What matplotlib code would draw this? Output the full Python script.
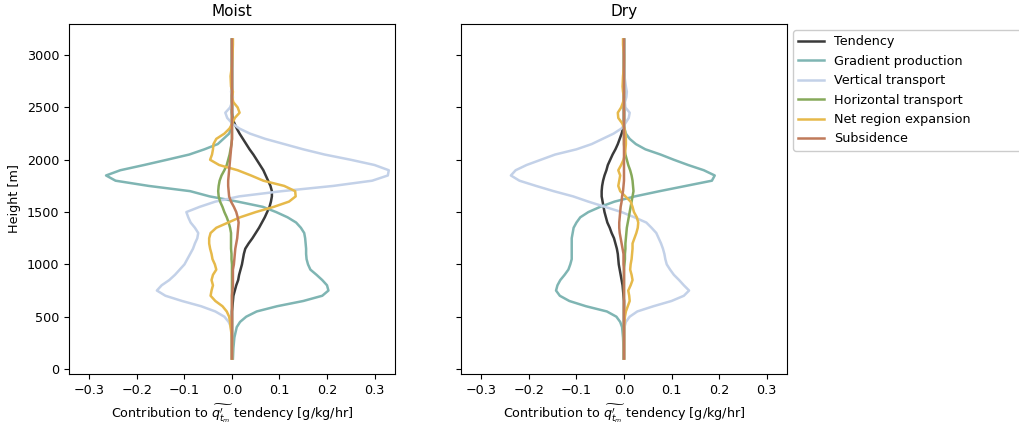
import matplotlib
matplotlib.use("Agg")
import matplotlib.pyplot as plt

plt.rcParams['font.family'] = ['DejaVu Sans']
plt.rcParams['font.size'] = 9.2

heights = [100, 200, 300, 400, 450, 500, 550, 600, 650, 700, 750, 800, 850, 900, 950,
           1000, 1050, 1100, 1150, 1200, 1250, 1300, 1350, 1400, 1450, 1500, 1550, 1600,
           1650, 1700, 1750, 1800, 1850, 1900, 1950, 2000, 2050, 2100, 2150, 2200, 2250,
           2300, 2350, 2400, 2450, 2500, 2550, 2600, 2650, 2700, 2800, 2900, 3000, 3100, 3150]

series_names = ["Tendency", "Gradient production", "Vertical transport",
                "Horizontal transport", "Net region expansion", "Subsidence"]
series_colors = ["#3a3a3a", "#7fb5b3", "#c3d1e8", "#86a95a", "#e6b94a", "#c07a5a"]

# ---------------- Moist ----------------
moist_tendency = [0, 0, 0, 0, 0, 0, 0, 0.001, 0.002, 0.003, 0.006, 0.009, 0.013, 0.015, 0.018,
                  0.021, 0.023, 0.025, 0.028, 0.035, 0.043, 0.050, 0.057, 0.063, 0.069, 0.074, 0.079, 0.082,
                  0.084, 0.084, 0.081, 0.076, 0.071, 0.066, 0.059, 0.052, 0.045, 0.037, 0.030, 0.023, 0.016,
                  0.010, 0.005, 0.001, 0, 0, 0, 0, 0, 0, 0, 0, 0, 0, 0]
moist_gradient = [0.002, 0.003, 0.005, 0.010, 0.017, 0.030, 0.052, 0.095, 0.150, 0.190, 0.203, 0.200, 0.190, 0.178, 0.165,
                  0.160, 0.157, 0.156, 0.156, 0.155, 0.154, 0.152, 0.145, 0.135, 0.117, 0.093, 0.065, 0.012,
                  -0.047, -0.088, -0.175, -0.245, -0.265, -0.235, -0.185, -0.137, -0.090, -0.058, -0.030, -0.018, -0.006,
                  -0.002, 0, 0, 0, 0, 0, 0, 0, 0, 0, 0, 0, 0, 0]
moist_vertical = [0, 0, 0, -0.002, -0.007, -0.016, -0.035, -0.065, -0.105, -0.140, -0.158, -0.148, -0.132, -0.120, -0.110,
                  -0.100, -0.094, -0.088, -0.082, -0.078, -0.073, -0.071, -0.078, -0.087, -0.092, -0.096, -0.068, -0.035,
                  0.015, 0.105, 0.213, 0.295, 0.328, 0.330, 0.300, 0.250, 0.195, 0.150, 0.110, 0.070, 0.038,
                  0.015, 0.0, -0.010, -0.014, -0.004, 0.0, 0.002, -0.002, 0.0, 0, 0, 0, 0, 0]
moist_horizontal = [0, 0, 0, 0, 0, 0, 0, 0, 0, 0, 0, 0, 0, 0, 0,
                    0, -0.001, -0.001, -0.002, -0.002, -0.002, -0.002, -0.004, -0.007, -0.011, -0.016, -0.020, -0.025,
                    -0.028, -0.029, -0.028, -0.026, -0.022, -0.016, -0.011, -0.008, -0.005, -0.003, -0.001, 0, 0,
                    0, 0, 0, 0, 0, 0, 0, 0, 0, 0, 0, 0, 0, 0]
moist_net = [0, 0, 0, -0.003, -0.004, -0.006, -0.011, -0.020, -0.035, -0.045, -0.043, -0.040, -0.043, -0.040, -0.033,
             -0.036, -0.041, -0.043, -0.046, -0.048, -0.048, -0.045, -0.033, -0.008, 0.017, 0.050, 0.088, 0.120,
             0.134, 0.133, 0.110, 0.066, 0.040, 0.012, -0.027, -0.046, -0.042, -0.040, -0.039, -0.033, -0.016,
             -0.005, 0.001, 0.006, 0.016, 0.012, 0.003, 0.0, 0.002, -0.002, -0.003, 0.0, 0.001, 0.002, 0.002]
moist_subsidence = [0, 0, 0, 0, 0, 0, 0, 0, 0, 0, 0.001, 0.002, 0.002, 0.002, 0.002,
                    0.004, 0.005, 0.006, 0.007, 0.009, 0.011, 0.012, 0.013, 0.014, 0.012, 0.009, 0.004, -0.002,
                    -0.006, -0.007, -0.008, -0.008, -0.007, -0.006, -0.005, -0.004, -0.003, -0.002, -0.001, 0, 0,
                    0, 0, 0, 0, 0, 0, 0, 0, 0, 0, 0, 0, 0, 0]

# ---------------- Dry ----------------
dry_tendency = [0, 0, 0, 0, 0, 0, 0, 0, 0, -0.001, -0.002, -0.003, -0.005, -0.007, -0.009,
                -0.011, -0.012, -0.013, -0.015, -0.018, -0.021, -0.026, -0.030, -0.035, -0.038, -0.041, -0.043, -0.045,
                -0.047, -0.047, -0.046, -0.044, -0.041, -0.037, -0.034, -0.029, -0.024, -0.018, -0.013, -0.009, -0.005,
                -0.002, 0, 0, 0, 0, 0, 0, 0, 0, 0, 0, 0, 0, 0]
dry_gradient = [-0.001, -0.001, -0.002, -0.004, -0.008, -0.016, -0.036, -0.080, -0.115, -0.135, -0.143, -0.140, -0.134, -0.125, -0.117,
                -0.113, -0.110, -0.110, -0.110, -0.110, -0.110, -0.108, -0.106, -0.100, -0.092, -0.075, -0.050, -0.020,
                0.023, 0.075, 0.130, 0.185, 0.191, 0.168, 0.135, 0.105, 0.077, 0.045, 0.025, 0.012, 0.004,
                0.001, 0, 0, 0, 0, 0, 0, 0, 0, 0, 0, 0, 0, 0]
dry_vertical = [0, 0, 0, 0.001, 0.004, 0.012, 0.028, 0.062, 0.100, 0.126, 0.137, 0.126, 0.116, 0.105, 0.097,
                0.090, 0.087, 0.085, 0.082, 0.078, 0.073, 0.068, 0.058, 0.047, 0.022, -0.005, -0.040, -0.075,
                -0.107, -0.148, -0.185, -0.220, -0.238, -0.228, -0.205, -0.175, -0.145, -0.100, -0.068, -0.045, -0.022,
                -0.005, 0.003, 0.010, 0.012, 0.003, 0.002, 0.005, 0.006, 0.004, 0.001, 0.001, 0, 0, 0]
dry_horizontal = [0, 0, 0, 0, 0, 0, 0, 0, 0, 0, 0, 0, 0, 0, 0,
                  0.001, 0.002, 0.002, 0.003, 0.003, 0.004, 0.005, 0.006, 0.008, 0.010, 0.012, 0.014, 0.016,
                  0.018, 0.020, 0.019, 0.018, 0.016, 0.013, 0.009, 0.006, 0.003, 0.001, 0, 0, 0,
                  0, 0, 0, 0, 0, 0, 0, 0, 0, 0, 0, 0, 0, 0]
dry_net = [0, 0, 0, 0, 0.001, 0.002, 0.004, 0.008, 0.012, 0.011, 0.009, 0.014, 0.018, 0.016, 0.013,
           0.014, 0.016, 0.017, 0.018, 0.018, 0.022, 0.026, 0.029, 0.030, 0.027, 0.021, 0.018, 0.014,
           0.003, -0.008, -0.012, -0.010, -0.008, -0.012, -0.006, -0.001, 0.002, 0.003, 0.004, 0.004, 0.003,
           0.001, -0.004, -0.012, -0.013, -0.006, -0.002, 0.0, -0.002, -0.003, -0.002, 0.0, 0.0, -0.002, -0.002]
dry_subsidence = [0, 0, 0, 0, 0, 0, 0, 0, 0, 0, 0, 0, 0, 0, 0,
                  -0.001, -0.001, -0.001, -0.003, -0.005, -0.007, -0.009, -0.010, -0.010, -0.009, -0.008, -0.007, -0.005,
                  -0.004, -0.002, -0.001, 0, 0, 0, 0, 0, 0, 0, 0, 0, 0,
                  0, 0, 0, 0, 0, 0, 0, 0, 0, 0, 0, 0, 0, 0]

panels = [
    ("Moist", [moist_tendency, moist_gradient, moist_vertical, moist_horizontal, moist_net, moist_subsidence]),
    ("Dry", [dry_tendency, dry_gradient, dry_vertical, dry_horizontal, dry_net, dry_subsidence]),
]
xticks = [-0.3, -0.2, -0.1, 0.0, 0.1, 0.2, 0.3]
xlabel = r"Contribution to $\widetilde{q^{\prime}_{t_m}}$ tendency [g/kg/hr]"

fig = plt.figure(figsize=(10.19, 4.24), dpi=100)
ax1 = fig.add_axes([0.0677, 0.1179, 0.3199, 0.8255])
ax2 = fig.add_axes([0.4524, 0.1179, 0.3199, 0.8255], sharey=ax1)

for ax, (title, data) in zip([ax1, ax2], panels):
    for name, color, vals in zip(series_names, series_colors, data):
        ax.plot(vals, heights, color=color, lw=1.8, label=name)
    ax.set_title(title, fontsize=11)
    ax.set_xlim(-0.343, 0.343)
    ax.set_xticks(xticks)
    ax.set_xlabel(xlabel)
    ax.tick_params(length=3.5)

ax1.set_ylim(-48, 3298)
ax1.set_ylabel("Height [m]")
plt.setp(ax2.get_yticklabels(), visible=False)

ax2.legend(loc="upper left", bbox_to_anchor=(1.0, 0.0, 0.8, 1.0), mode="expand",
           fontsize=9.2, framealpha=1.0)

fig.savefig("out.png", dpi=100)
